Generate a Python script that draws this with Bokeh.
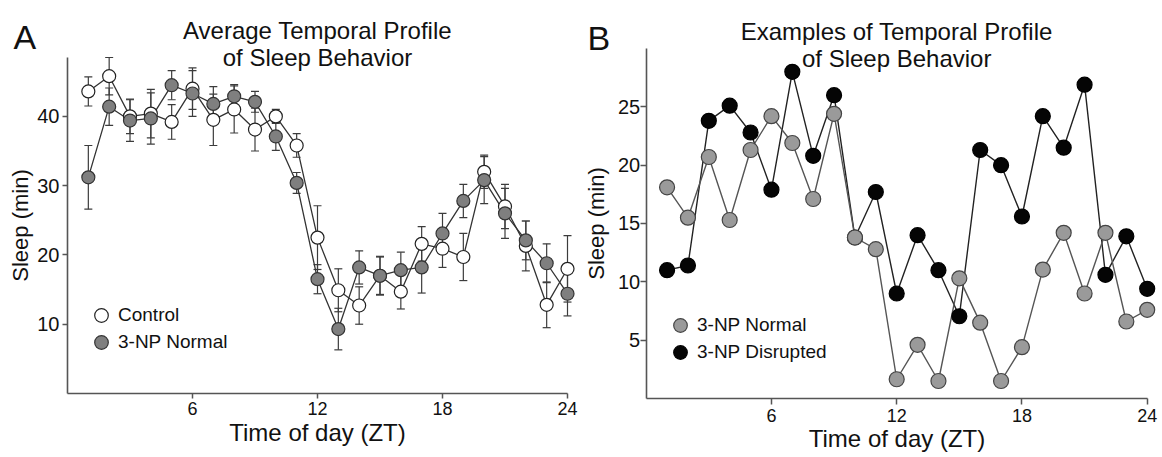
from bokeh.plotting import figure
from bokeh.models import (ColumnDataSource, Whisker, TeeHead, Label, Legend, LegendItem,
                          FixedTicker, Range1d)
from bokeh.layouts import row
from bokeh.embed import file_html
from bokeh.resources import INLINE

# ---------------- data ----------------
zt = list(range(1, 25))
x_ticks = [6, 12, 18, 24]

# Panel A: average temporal profile (mean +/- SEM)
control_mean = [43.6, 45.8, 40.0, 40.4, 39.2, 44.0, 39.5, 41.0, 38.1, 40.0, 35.8, 22.5,
                14.9, 12.7, 17.0, 14.7, 21.6, 20.9, 19.7, 32.0, 27.0, 21.3, 12.8, 18.0]
control_sem = [2.1, 2.7, 2.5, 3.5, 2.5, 3.0, 3.7, 3.4, 3.1, 1.0, 1.7, 4.6,
               3.1, 2.7, 2.8, 2.5, 2.5, 2.7, 3.4, 2.4, 3.2, 3.6, 3.3, 4.8]
np_mean = [31.2, 41.4, 39.4, 39.7, 44.5, 43.3, 41.8, 42.9, 42.1, 37.1, 30.4, 16.5,
           9.3, 18.2, 17.0, 17.8, 18.2, 23.1, 27.8, 30.8, 26.0, 22.1, 18.8, 14.4]
np_sem = [4.6, 2.7, 3.0, 3.7, 2.1, 3.3, 2.5, 1.7, 1.5, 2.0, 1.5, 2.1,
          3.0, 2.4, 2.7, 2.6, 3.7, 2.9, 2.4, 3.4, 3.6, 2.8, 2.8, 3.2]
a_yticks = [10, 20, 30, 40]

# Panel B: individual examples
b_normal = [18.1, 15.5, 20.7, 15.3, 21.3, 24.2, 21.9, 17.1, 24.4, 13.8, 12.8, 1.65,
            4.6, 1.5, 10.3, 6.5, 1.5, 4.4, 11.05, 14.2, 9.0, 14.2, 6.6, 7.6]
b_disrupted = [11.0, 11.4, 23.8, 25.1, 22.8, 17.9, 28.0, 20.8, 26.0, 13.8, 17.7, 9.0,
               14.0, 11.0, 7.05, 21.3, 20.0, 15.6, 24.2, 21.5, 26.9, 10.6, 13.9, 9.4]
b_yticks = [5, 10, 15, 20, 25]

FONT = "Liberation Sans"
AXC = "#555555"
TXT = "#111111"


def make_fig(xr, yr):
    return figure(width=581, height=457, frame_width=581, frame_height=457,
                  min_border=0, min_border_left=0, min_border_right=0,
                  min_border_top=0, min_border_bottom=0, title=None,
                  x_range=Range1d(*xr), y_range=Range1d(*yr),
                  output_backend="svg", toolbar_location=None)


def style(p, yticks, ybounds, tick_out, ylab_standoff, ytick_standoff):
    p.xaxis.ticker = FixedTicker(ticks=x_ticks)
    p.yaxis.ticker = FixedTicker(ticks=yticks)
    p.xaxis.bounds = (0, 24)
    p.yaxis.bounds = ybounds
    p.xaxis.fixed_location = 0
    p.yaxis.fixed_location = 0
    for ax in (p.xaxis[0], p.yaxis[0]):
        ax.axis_line_color = AXC
        ax.axis_line_width = 1.6
        ax.major_tick_line_color = AXC
        ax.major_tick_line_width = 1.5
        ax.major_tick_in = 0
        ax.major_tick_out = tick_out
        ax.minor_tick_line_color = None
        ax.major_label_text_font = FONT
        ax.major_label_text_color = TXT
        ax.axis_label_text_font = FONT
        ax.axis_label_text_font_style = "normal"
        ax.axis_label_text_color = TXT
    p.xaxis.major_label_text_font_size = "18px"
    p.xaxis.major_label_standoff = 4
    p.xaxis.axis_label = "Time of day (ZT)"
    p.xaxis.axis_label_text_font_size = "24px"
    p.xaxis.axis_label_standoff = 0
    p.yaxis.major_label_text_font_size = "20px"
    p.yaxis.major_label_standoff = ytick_standoff
    p.yaxis.axis_label = "Sleep (min)"
    p.yaxis.axis_label_text_font_size = "22px"
    p.yaxis.axis_label_standoff = ylab_standoff
    p.xgrid.grid_line_color = None
    p.ygrid.grid_line_color = None
    p.outline_line_color = None
    p.background_fill_color = "white"
    p.border_fill_color = "white"


def add_errors(p, means, sems, color):
    src = ColumnDataSource(dict(x=zt,
                                upper=[m + s for m, s in zip(means, sems)],
                                lower=[m - s for m, s in zip(means, sems)]))
    w = Whisker(source=src, base="x", upper="upper", lower="lower", level="underlay",
                line_color=color, line_width=1.2,
                upper_head=TeeHead(size=8, line_color=color, line_width=1.2),
                lower_head=TeeHead(size=8, line_color=color, line_width=1.2))
    p.add_layout(w)


def text_label(p, x, y, text, size, align):
    p.add_layout(Label(x=x, y=y, text=text, text_align=align, text_baseline="alphabetic",
                       text_font=FONT, text_font_size=size, text_color=TXT))


def one_item_legend(p, label, rend, x, y):
    leg = Legend(items=[LegendItem(label=label, renderers=[rend])],
                 location=(x, y), glyph_width=34, glyph_height=34, spacing=0,
                 padding=0, margin=0, label_standoff=0,
                 label_text_font=FONT, label_text_font_size="19px", label_text_color=TXT,
                 border_line_alpha=0, background_fill_alpha=0)
    p.add_layout(leg)


# ---------------- Panel A ----------------
pA = make_fig((-3.216, 24.672), (-9.238, 56.727))
style(pA, a_yticks, (0, 48.5), 5, 1, 3)

ERR = "#3c3c3c"
add_errors(pA, control_mean, control_sem, ERR)
add_errors(pA, np_mean, np_sem, ERR)
srcA = ColumnDataSource(dict(x=zt, c=control_mean, n=np_mean))
pA.line("x", "c", source=srcA, line_color="#333333", line_width=1.3)
pA.line("x", "n", source=srcA, line_color="#333333", line_width=1.3)
rc = pA.scatter("x", "c", source=srcA, size=13, fill_color="white",
                line_color="#222222", line_width=1.2)
rn = pA.scatter("x", "n", source=srcA, size=13, fill_color="#7f7f7f",
                line_color="#333333", line_width=1.2)

one_item_legend(pA, "Control", rc, 84, 125)
one_item_legend(pA, "3-NP Normal", rn, 84, 98)

text_label(pA, 12, 52.40, "Average Temporal Profile", "24px", "center")
text_label(pA, 12, 48.50, "of Sleep Behavior", "24px", "center")
text_label(pA, -2.592, 51.39, "A", "34px", "left")

# ---------------- Panel B ----------------
pB = make_fig((-3.099, 24.733), (-5.057, 34.114))
style(pB, b_yticks, (0, 30), 6, 6, 0)

srcB = ColumnDataSource(dict(x=zt, n=b_normal, d=b_disrupted))
pB.line("x", "d", source=srcB, line_color="#222222", line_width=1.4)
pB.line("x", "n", source=srcB, line_color="#555555", line_width=1.4)
rd = pB.scatter("x", "d", source=srcB, size=15, fill_color="#050505",
                line_color="#000000", line_width=1.2)
rbn = pB.scatter("x", "n", source=srcB, size=15, fill_color="#9a9a9a",
                 line_color="#444444", line_width=1.2)

one_item_legend(pB, "3-NP Normal", rbn, 82, 115)
one_item_legend(pB, "3-NP Disrupted", rd, 82, 88)

text_label(pB, 12, 31.46, "Examples of Temporal Profile", "24px", "center")
text_label(pB, 12, 29.14, "of Sleep Behavior", "24px", "center")
text_label(pB, -2.811, 30.86, "B", "34px", "left")

layout = row(pA, pB)
open("out.html", "w").write(file_html(layout, INLINE))
